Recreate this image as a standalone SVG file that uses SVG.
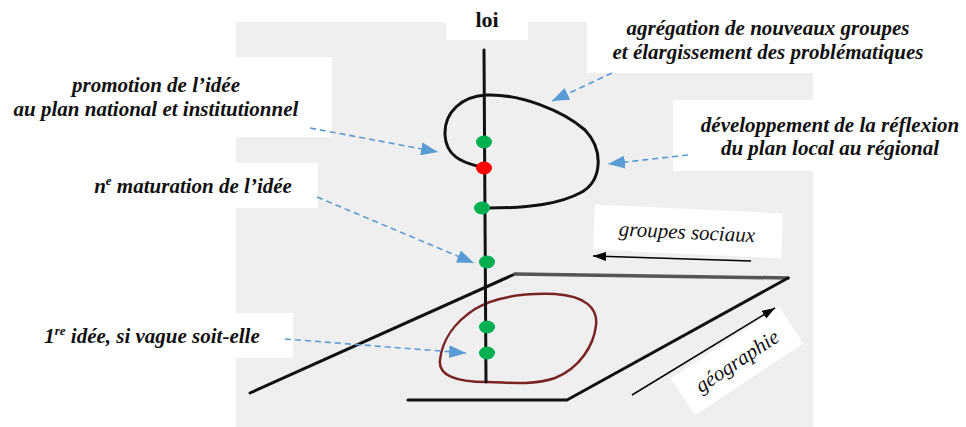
<svg xmlns="http://www.w3.org/2000/svg" width="966" height="427" viewBox="0 0 966 427">
<style>
.lbl{font-family:"Liberation Serif","Times New Roman",serif;font-size:21px;font-weight:bold;font-style:italic;fill:#111;text-anchor:middle}
.ax{font-family:"Liberation Serif","Times New Roman",serif;font-size:21px;font-style:italic;fill:#111;text-anchor:middle}
.box{fill:#ffffff}
.dash{fill:none;stroke:#5b9bd5;stroke-width:1.6;stroke-dasharray:6 4;marker-end:url(#ba)}
.ink{fill:none;stroke:#111;stroke-width:3;stroke-linecap:round;stroke-linejoin:round}
.g{fill:#00b050}
.r{fill:#ff0000}
</style>
<defs>
<marker id="ba" markerWidth="17" markerHeight="13" refX="17" refY="6.5" orient="auto" markerUnits="userSpaceOnUse">
<path d="M0,0 L17,6.5 L0,13 Z" fill="#5b9bd5"/>
</marker>
<marker id="bk" markerWidth="13" markerHeight="9" refX="13" refY="4.5" orient="auto" markerUnits="userSpaceOnUse">
<path d="M0,0 L13,4.5 L0,9 Z" fill="#000"/>
</marker>
</defs>
<rect x="0" y="0" width="966" height="427" fill="#ffffff"/>
<g id="background">
<rect x="236" y="22" width="577" height="405" fill="#efefef"/>
</g>
<g id="sketch">
<path class="ink" d="M515,274 L250,393"/>
<path d="M515,274 L788,278" fill="none" stroke="#555" stroke-width="3.5" stroke-linecap="round"/>
<path class="ink" d="M788,278 L567,400 L408,400"/>
<path d="M487,382 C455,382 438,375 440,360 C442,340 455,322 475,309 C495,297 525,293 555,294 C585,296 598,308 596,325 C594,345 580,368 555,378 C535,385 510,383 487,382 Z" fill="none" stroke="#7a2323" stroke-width="2.5"/>
<path class="ink" d="M484,50 L486,382"/>
<path class="ink" d="M477,166 C462,162 446,156 445,135 C444,112 462,96 487,95 C520,94 562,110 585,130 C604,150 602,180 582,192 C560,204 530,208 488,208"/>
</g>
<g id="node-loi">
<rect class="box" x="446" y="0" width="82" height="40"/>
<text x="487" y="27" font-family="Liberation Serif, Times New Roman, serif" font-size="22" font-weight="bold" fill="#111" text-anchor="middle">loi</text>
</g>
<g id="node-agregation">
<rect class="box" x="587" y="0" width="379" height="73"/>
<text class="lbl" x="768" y="35">agrégation de nouveaux groupes</text>
<text class="lbl" x="768" y="59">et élargissement des problématiques</text>
</g>
<g id="node-developpement">
<rect class="box" x="673" y="100" width="293" height="71"/>
<text class="lbl" x="830" y="132">développement de la réflexion</text>
<text class="lbl" x="830" y="155">du plan local au régional</text>
</g>
<g id="node-promotion">
<rect class="box" x="0" y="57" width="332" height="80"/>
<text class="lbl" x="156" y="92">promotion de l’idée</text>
<text class="lbl" x="156" y="116">au plan national et institutionnel</text>
</g>
<g id="node-maturation">
<rect class="box" x="0" y="163" width="318" height="45"/>
<text class="lbl" x="193" y="193">n<tspan font-size="13" dy="-8">e</tspan><tspan dy="8"> maturation de l’idée</tspan></text>
</g>
<g id="node-premiere">
<rect class="box" x="0" y="313" width="293" height="45"/>
<text class="lbl" x="152" y="343">1<tspan font-size="13" dy="-8">re</tspan><tspan dy="8"> idée, si vague soit-elle</tspan></text>
</g>
<g id="node-groupes" transform="rotate(2.7 688 232)">
<rect class="box" x="594" y="209" width="188" height="45"/>
<text class="ax" x="687" y="239">groupes sociaux</text>
</g>
<g id="node-geographie" transform="rotate(-33.5 737 361)">
<rect class="box" x="672" y="339" width="130" height="44"/>
<text class="ax" x="737" y="368">géographie</text>
</g>
<g id="points">
<ellipse class="g" cx="484" cy="142" rx="8" ry="6.5"/>
<ellipse class="r" cx="484" cy="168" rx="8" ry="6.5"/>
<ellipse class="g" cx="482" cy="208" rx="8" ry="6.5"/>
<ellipse class="g" cx="487" cy="262" rx="8" ry="6.5"/>
<ellipse class="g" cx="487" cy="327" rx="8" ry="6.5"/>
<ellipse class="g" cx="487" cy="353" rx="8" ry="6.5"/>
</g>
<g id="connectors">
<path class="dash" d="M612,73 L552,101"/>
<path class="dash" d="M688,155 L608,164"/>
<path class="dash" d="M310,128 L438,152"/>
<path class="dash" d="M317,197 L474,263"/>
<path class="dash" d="M285,339 L466,353"/>
<path d="M751,261 L593,256" fill="none" stroke="#000" stroke-width="1.5" marker-end="url(#bk)"/>
<path d="M632,395 L775,308" fill="none" stroke="#000" stroke-width="1.5" marker-end="url(#bk)"/>
</g>
</svg>
